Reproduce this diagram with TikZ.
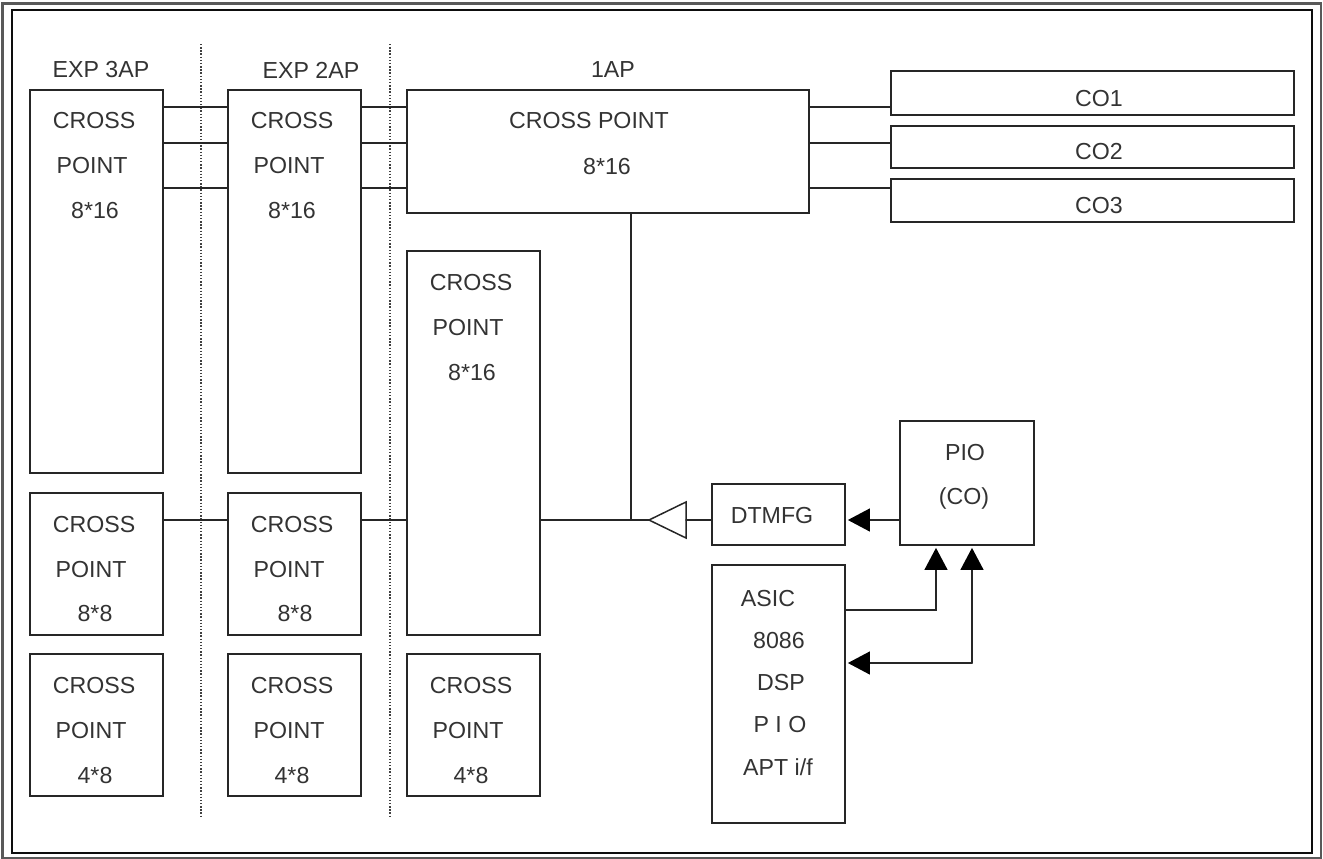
\documentclass[tikz,border=0pt]{standalone}
\usepackage{fontspec}
\setmainfont{Liberation Sans}
\usepackage{tikz}
\usetikzlibrary{arrows.meta}
\usetikzlibrary{fit}
\tikzset{
blockbox/.style={draw=black!85, line width=0.85pt, inner sep=0pt},
blocktext/.style={font=\fontsize{13.2}{16}\selectfont, text=black!80, inner sep=0pt},
wire/.style={draw=black!85, line width=0.85pt, line cap=round},
sepline/.style={draw=black!75, line width=0.8pt, densely dotted},
headarrow/.style={wire, -{Triangle[length=12.5pt,width=13pt,color=black]}, shorten >=1.2pt}}

\begin{document}
\begin{tikzpicture}[x=0.02cm, y=-0.02cm]

                \useasboundingbox (0,0) rectangle (1323,859);

                % frame
                \draw[black!65, line width=1.6pt] (2.5,3.5) rectangle (1321,858);
                \draw[black!95, line width=1.6pt] (12,10) rectangle (1312,853);

                % column separators
                \coordinate (sepA1) at (201,44);
                \coordinate (sepA2) at (201,816);
                \coordinate (sepB1) at (390,44);
                \coordinate (sepB2) at (390,816);
                \draw[sepline] (sepA1) -- (sepA2);
                \draw[sepline] (sepB1) -- (sepB2);

                % levels of the wires
                \coordinate (levA) at (0,107);
                \coordinate (levB) at (0,143);
                \coordinate (levC) at (0,188);
                \coordinate (levD) at (0,520);
                \coordinate (levE) at (0,610);
                \coordinate (levF) at (0,663);
                \coordinate (colA) at (936,0);
                \coordinate (colB) at (972,0);
                \coordinate (colC) at (631,0);

                % EXP 3AP
                \node[blocktext] (headThree) at (101,70) {EXP 3AP};
                \node[blockbox, fit={(30,90) (163,473)}] (topThree) {};
                \node[blockbox, fit={(30,493) (163,635)}] (midThree) {};
                \node[blockbox, fit={(30,654) (163,796)}] (lowThree) {};
                \node[blocktext] (topThreeA) at (94,121) {CROSS};
                \node[blocktext] (topThreeB) at (92,166) {POINT};
                \node[blocktext] (topThreeC) at (95,211) {8*16};
                \node[blocktext] (midThreeA) at (94,525) {CROSS};
                \node[blocktext] (midThreeB) at (91,570) {POINT};
                \node[blocktext] (midThreeC) at (95,614) {8*8};
                \node[blocktext] (lowThreeA) at (94,686) {CROSS};
                \node[blocktext] (lowThreeB) at (91,731) {POINT};
                \node[blocktext] (lowThreeC) at (95,776) {4*8};

                % EXP 2AP
                \node[blocktext] (headTwo) at (311,70) {EXP 2AP};
                \node[blockbox, fit={(228,90) (361,473)}] (topTwo) {};
                \node[blockbox, fit={(228,493) (361,635)}] (midTwo) {};
                \node[blockbox, fit={(228,654) (361,796)}] (lowTwo) {};
                \node[blocktext] (topTwoA) at (292,121) {CROSS};
                \node[blocktext] (topTwoB) at (289,166) {POINT};
                \node[blocktext] (topTwoC) at (292,211) {8*16};
                \node[blocktext] (midTwoA) at (292,525) {CROSS};
                \node[blocktext] (midTwoB) at (289,570) {POINT};
                \node[blocktext] (midTwoC) at (295,614) {8*8};
                \node[blocktext] (lowTwoA) at (292,686) {CROSS};
                \node[blocktext] (lowTwoB) at (289,731) {POINT};
                \node[blocktext] (lowTwoC) at (292,776) {4*8};

                % 1AP
                \node[blocktext] (headOne) at (613,70) {1AP};
                \node[blockbox, fit={(407,90) (809,213)}] (topOne) {};
                \node[blockbox, fit={(407,251) (540,635)}] (midOne) {};
                \node[blockbox, fit={(407,654) (540,796)}] (lowOne) {};
                \node[blocktext] (topOneA) at (589,121) {CROSS POINT};
                \node[blocktext] (topOneB) at (607,167) {8*16};
                \node[blocktext] (midOneA) at (471,283) {CROSS};
                \node[blocktext] (midOneB) at (468,328) {POINT};
                \node[blocktext] (midOneC) at (472,373) {8*16};
                \node[blocktext] (lowOneA) at (471,686) {CROSS};
                \node[blocktext] (lowOneB) at (468,731) {POINT};
                \node[blocktext] (lowOneC) at (471,776) {4*8};

                % CO lines
                \node[blockbox, fit={(891,71) (1294,115)}] (coA) {};
                \node[blockbox, fit={(891,126) (1294,168)}] (coB) {};
                \node[blockbox, fit={(891,179) (1294,222)}] (coC) {};
                \node[blocktext] (coAtext) at (1099,99) {CO1};
                \node[blocktext] (coBtext) at (1099,152) {CO2};
                \node[blocktext] (coCtext) at (1099,206) {CO3};

                % tone generator side
                \node[blockbox, fit={(712,484) (845,545)}] (dtmfg) {};
                \node[blockbox, fit={(900,421) (1034,545)}] (pio) {};
                \node[blockbox, fit={(712,565) (845,823)}] (asic) {};
                \node[blocktext] (dtmfgtext) at (772,516) {DTMFG};
                \node[blocktext] (piotextA) at (965,453) {PIO};
                \node[blocktext] (piotextB) at (964,498) {(CO)};
                \node[blocktext] (asictextA) at (768,599) {ASIC};
                \node[blocktext] (asictextB) at (779,641) {8086};
                \node[blocktext] (asictextC) at (781,683) {DSP};
                \node[blocktext] (asictextD) at (780,725) {P I O};
                \node[blocktext] (asictextE) at (778,767) {APT i/f};

                % buffer triangle
                \coordinate (bufTip) at (649,520);
                \coordinate (bufBase) at (686,520);
                \draw[wire] (686,502) -- (bufTip) -- (686,538) -- cycle;

                % wires between the blocks
                \draw[wire] (topThree.east |- levA) -- (topTwo.west |- levA);
                \draw[wire] (topThree.east |- levB) -- (topTwo.west |- levB);
                \draw[wire] (topThree.east |- levC) -- (topTwo.west |- levC);
                \draw[wire] (topTwo.east |- levA) -- (topOne.west |- levA);
                \draw[wire] (topTwo.east |- levB) -- (topOne.west |- levB);
                \draw[wire] (topTwo.east |- levC) -- (topOne.west |- levC);
                \draw[wire] (topOne.east |- levA) -- (coA.west |- levA);
                \draw[wire] (topOne.east |- levB) -- (coB.west |- levB);
                \draw[wire] (topOne.east |- levC) -- (coC.west |- levC);
                \draw[wire] (midThree.east |- levD) -- (midTwo.west |- levD);
                \draw[wire] (midTwo.east |- levD) -- (midOne.west |- levD);
                \draw[wire] (midOne.east |- levD) -- (bufTip);
                \draw[wire] (colC |- topOne.south) -- (colC |- levD);
                \draw[wire] (dtmfg.west |- levD) -- (bufBase);
                \draw[headarrow] (pio.west |- levD) -- (dtmfg.east |- levD);
                \draw[headarrow] (asic.east |- levE) -- (colA |- levE) -- (colA |- pio.south);
                \draw[headarrow] (colB |- levF) -- (asic.east |- levF);
                \draw[headarrow] (colB |- levF) -- (colB |- pio.south);

            \end{tikzpicture}
\end{document}
